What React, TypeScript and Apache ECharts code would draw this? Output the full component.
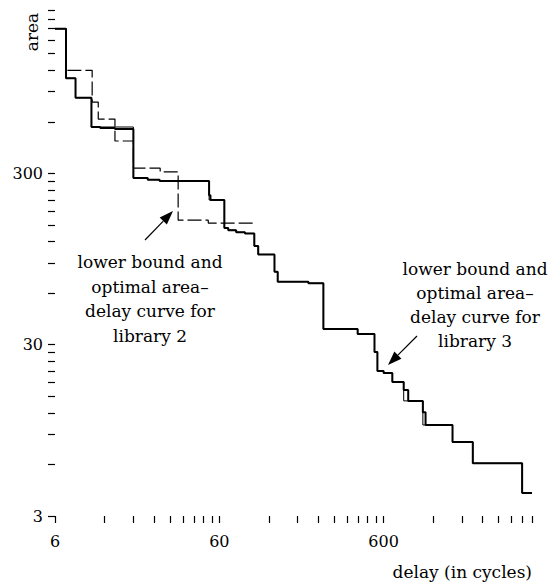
import React, { useEffect, useRef } from "react";
import * as echarts from "echarts";

const xTickValues = [6, 12, 18, 24, 30, 36, 42, 48, 54, 60, 120, 180, 240, 300, 360, 420, 480, 540, 600, 1200, 1800, 2400, 3000, 3600, 4200, 4800];
const xLabelValues = [6, 60, 600];
const yTickValues = [3, 6, 9, 12, 15, 18, 21, 24, 27, 30, 60, 90, 120, 150, 180, 210, 240, 270, 300, 600, 900, 1200, 1500, 1800, 2100, 2400, 2700];
const yLabelValues = [3, 30, 300];

// library 3: optimal curve (thick)
const lib3Optimal: [number, number][] = [
  [6, 2100], [7, 1080], [8, 830], [10, 560], [11.3, 552], [13.9, 545], [18, 282], [22, 276], [26, 271],
  [52, 224], [53, 210], [64.4, 144], [68, 140], [76, 136], [86, 134], [98, 113], [103.5, 101], [130, 80],
  [136, 70], [209, 68.6], [258, 37], [417, 34.6], [528, 27.2], [550, 21.1], [600, 20.5], [678, 18.2],
  [795, 16.3], [847, 14.1], [1040, 12.1], [1080, 10.2], [1576, 8.1], [2094, 6.1], [4180, 4.09], [4800, 4.09],
];

// library 3: lower bound (thin)
const lib3Bound: [number, number][] = [
  [6, 2100], [7, 1080], [8, 830], [10, 560], [18, 282], [22, 276], [26, 271], [52, 210], [64.4, 144],
  [68, 140], [76, 136], [86, 134], [98, 113], [103.5, 101], [130, 80], [136, 70], [209, 68.6], [258, 37],
  [417, 34.6], [528, 27.2], [550, 21.1], [600, 20.5], [678, 18.2], [795, 14.1], [1040, 10.2], [1576, 8.1],
  [2094, 6.1], [4180, 4.09], [4800, 4.09],
];

// library 2: optimal curve (dashed)
const lib2Optimal: [number, number][] = [
  [6, 2100], [7, 1200], [10.1, 783], [11, 623], [13.9, 464], [18, 322], [26.2, 306], [33.7, 160],
  [51.4, 154], [96.4, 154],
];

const FONT = "DejaVu Serif";
const FS = 17;
const TICK_FS = 16;

function arrow(x1: number, y1: number, x2: number, y2: number) {
  const dx = x2 - x1;
  const dy = y2 - y1;
  const len = Math.sqrt(dx * dx + dy * dy);
  const ux = dx / len;
  const uy = dy / len;
  const hl = 14;
  const hw = 5;
  const bx = x2 - ux * hl;
  const by = y2 - uy * hl;
  const px = -uy * hw;
  const py = ux * hw;
  return [
    {
      type: "line",
      shape: { x1, y1, x2: bx, y2: by },
      style: { stroke: "#000", lineWidth: 1.2 },
    },
    {
      type: "polygon",
      shape: { points: [[x2, y2], [bx + px, by + py], [bx - px, by - py]] },
      style: { fill: "#000" },
    },
  ];
}

function textEl(x: number, y: number, text: string, extra: Record<string, unknown>) {
  return {
    type: "text",
    x,
    y,
    style: {
      text,
      fill: "#000",
      fontFamily: FONT,
      fontSize: FS,
      ...extra,
    },
  };
}

export default function App() {
  const ref = useRef<HTMLDivElement>(null);

  useEffect(() => {
    if (!ref.current) return;
    const chart = echarts.init(ref.current, undefined, { renderer: "svg" });
    const axisLabelStyle = {
      color: "#000",
      fontFamily: FONT,
      fontSize: TICK_FS,
    };
    const areaLabel: any = textEl(32, 32, "area", { align: "center", verticalAlign: "middle" });
    areaLabel.rotation = Math.PI / 2;
    chart.setOption({
      animation: false,
      backgroundColor: "#fff",
      textStyle: { fontFamily: FONT },
      grid: { left: 55, right: 25, top: 10, bottom: 67, containLabel: false },
      xAxis: {
        type: "log",
        logBase: 10,
        min: 6,
        max: 4800,
        axisLine: { show: false },
        splitLine: { show: false },
        axisTick: {
          show: true,
          length: 7,
          customValues: xTickValues,
          lineStyle: { color: "#000", width: 1.2 },
        },
        axisLabel: {
          ...axisLabelStyle,
          margin: 17,
          customValues: xLabelValues,
        },
      },
      yAxis: {
        type: "log",
        logBase: 10,
        min: 3,
        max: 2700,
        axisLine: { show: false },
        splitLine: { show: false },
        axisTick: {
          show: true,
          length: 7,
          customValues: yTickValues,
          lineStyle: { color: "#000", width: 1.2 },
        },
        axisLabel: {
          ...axisLabelStyle,
          margin: 12,
          customValues: yLabelValues,
        },
      },
      series: [
        {
          type: "line",
          name: "library 2 optimal",
          data: lib2Optimal,
          step: "end",
          showSymbol: false,
          lineStyle: { color: "#000", width: 1.2, type: [14, 4] },
          z: 2,
        },
        {
          type: "line",
          name: "library 3 lower bound",
          data: lib3Bound,
          step: "end",
          showSymbol: false,
          lineStyle: { color: "#000", width: 1 },
          z: 3,
        },
        {
          type: "line",
          name: "library 3 optimal",
          data: lib3Optimal,
          step: "end",
          showSymbol: false,
          lineStyle: { color: "#000", width: 2 },
          z: 4,
        },
      ],
      graphic: [
        areaLabel,
        textEl(532, 572, "delay (in cycles)", { align: "right", verticalAlign: "middle" }),
        textEl(150, 250, "lower bound and\noptimal area\u2013\ndelay curve for\nlibrary 2", {
          lineHeight: 24.5,
          align: "center",
          verticalAlign: "top",
        }),
        textEl(475, 257, "lower bound and\noptimal area\u2013\ndelay curve for\nlibrary 3", {
          lineHeight: 24,
          align: "center",
          verticalAlign: "top",
        }),
        ...arrow(145, 240, 173, 211),
        ...arrow(417, 336, 388, 365),
      ],
    });
    return () => chart.dispose();
  }, []);

  return (
    <div style={{ position: "fixed", left: 0, top: 0 }}>
      <div ref={ref} style={{ width: 557, height: 583 }} />
    </div>
  );
}
